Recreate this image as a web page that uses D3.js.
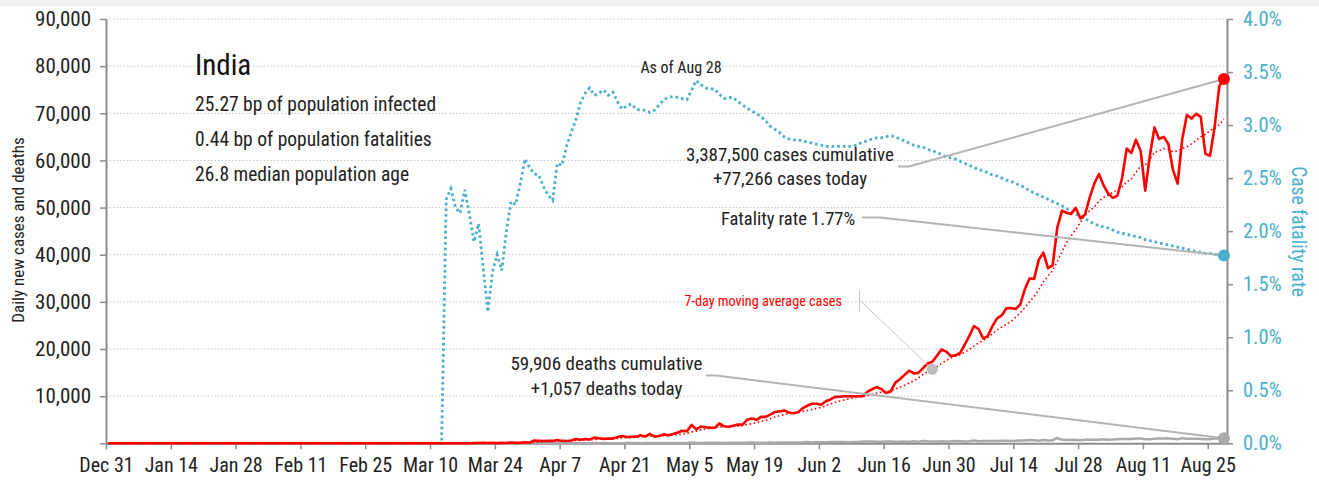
<!DOCTYPE html>
<html>
<head>
<meta charset="utf-8">
<script src="https://cdn.jsdelivr.net/npm/d3@7"></script>
<style>
  body { margin: 0; background: #fff; }
  svg text { font-family: "Liberation Sans Narrow", "Arial Narrow", "Roboto Condensed", "DejaVu Sans Condensed", sans-serif; }
</style>
</head>
<body>
<div id="plot"></div>
<script>
// ---- data ----
const country = "India";
const statLines = ["25.27 bp of population infected", "0.44 bp of population fatalities", "26.8 median population age"];
const asOfLabel = "As of Aug 28";

// daily new cases, one value per day from Mar 1 to Aug 28
const casesStart = "2020-03-01";
const casesEarly = [["2019-12-31", 0], ["2020-02-29", 0]];
const casesDaily = [
  0, 2, 1, 22, 2, 1, 3, 5, 9, 15, 8, 10, 8, 20, 25, 7, 23, 14, 38, 50, 86, 66, 103, 37, 121, 70, 160, 100, 106, 227, 146,
  601, 545, 478, 525, 505, 704, 508, 485, 591, 896, 768, 918, 796, 1211, 1076, 941, 1007, 991, 1334, 1553, 1336, 1383, 1409, 1684, 1429, 1990, 1396, 1543, 1897, 1718,
  1993, 2293, 2644, 2553, 3900, 2958, 3561, 3390, 3320, 3277, 4213, 3604, 3525, 3722, 3967, 3970, 4987, 5242, 4970, 5611, 5609, 6088, 6654, 6767, 6977, 6535, 6387, 6566, 7466, 7964, 8380,
  8392, 8171, 8909, 9304, 9851, 9887, 9971, 9983, 9987, 9985, 9996, 10956, 11458, 11929, 11502, 10667, 10974, 12881, 13586, 14516, 15413, 14821, 14933, 15968, 16922, 17296, 18552, 19906, 19459, 18522,
  18653, 19148, 20903, 22771, 24850, 24248, 22252, 22752, 24879, 26506, 27114, 28637, 28701, 28498, 29429, 32695, 34956, 34884, 38902, 40425, 37148, 37724, 45720, 49310, 48916, 48661, 49931, 47704, 48513, 52123, 55079,
  57118, 54735, 52972, 52050, 52509, 56282, 62538, 61537, 64399, 62064, 53601, 60963, 66999, 64553, 65002, 63490, 57982, 55079, 64531, 69652, 68898, 69878, 69239, 61408, 60975, 67151, 75760, 77266
];

// daily deaths, one value per day from Mar 12 to Aug 28
const deathsStart = "2020-03-12";
const deathsEarly = [["2019-12-31", 0], ["2020-03-11", 0]];
const deathsDaily = [
  1, 1, 0, 0, 0, 1, 0, 1, 1, 0, 3, 2, 1, 2, 3, 4, 2, 6, 4, 3,
  3, 12, 9, 15, 8, 28, 12, 35, 30, 33, 33, 35, 31, 51, 29, 38, 28, 37, 36, 31, 50, 47, 57, 37, 56, 49, 56, 62, 51, 73,
  75, 71, 83, 68, 195, 126, 89, 103, 95, 111, 128, 87, 122, 134, 100, 120, 120, 157, 134, 140, 132, 148, 137, 147, 154, 146, 170, 194, 175, 265, 193,
  230, 204, 217, 260, 273, 294, 287, 206, 266, 279, 357, 396, 386, 311, 325, 380, 400, 336, 336, 375, 306, 445, 312, 465, 418, 407, 384, 410, 380, 418,
  507, 434, 379, 442, 613, 425, 467, 482, 487, 475, 519, 551, 500, 553, 582, 606, 687, 671, 543, 681, 587, 648, 1129, 740, 705, 757, 708, 654, 768, 775, 779,
  764, 853, 771, 803, 857, 904, 886, 933, 1007, 1007, 871, 834, 942, 1007, 996, 1092, 941, 876, 1092, 977, 983, 945, 912, 836, 848, 1059, 1023, 1057
];

// case fatality rate (%), one value per day from Mar 13 to Aug 28
const cfrStart = "2020-03-13";
const cfrEarly = [["2019-12-31", 0], ["2020-03-12", 0]];
const cfrDaily = [
  2.30, 2.40, 2.22, 2.17, 2.39, 2.16, 1.90, 2.07, 1.65, 1.24, 1.62, 1.78, 1.63, 2.00, 2.28, 2.25, 2.45, 2.68, 2.60,
  2.54, 2.53, 2.42, 2.34, 2.29, 2.64, 2.62, 2.80, 2.93, 3.05, 3.21, 3.30, 3.35, 3.28, 3.30, 3.33, 3.28, 3.31, 3.22, 3.15, 3.18, 3.20, 3.15, 3.14, 3.14, 3.12, 3.14, 3.19, 3.24, 3.26,
  3.27, 3.26, 3.25, 3.24, 3.33, 3.42, 3.38, 3.35, 3.34, 3.34, 3.29, 3.25, 3.26, 3.26, 3.22, 3.19, 3.16, 3.13, 3.11, 3.08, 3.04, 2.99, 2.96, 2.93, 2.89, 2.87, 2.86, 2.86, 2.85, 2.84, 2.83,
  2.82, 2.81, 2.80, 2.80, 2.80, 2.80, 2.80, 2.80, 2.80, 2.82, 2.84, 2.85, 2.87, 2.88, 2.88, 2.89, 2.90, 2.89, 2.87, 2.85, 2.83, 2.81, 2.80, 2.79, 2.77, 2.76, 2.74, 2.72, 2.70, 2.69,
  2.68, 2.66, 2.64, 2.62, 2.60, 2.58, 2.57, 2.55, 2.53, 2.52, 2.50, 2.48, 2.47, 2.45, 2.43, 2.41, 2.38, 2.36, 2.34, 2.32, 2.30, 2.28, 2.26, 2.24, 2.21, 2.19, 2.16, 2.14, 2.12, 2.09, 2.07,
  2.05, 2.04, 2.03, 2.01, 1.99, 1.98, 1.97, 1.96, 1.95, 1.94, 1.92, 1.91, 1.90, 1.89, 1.88, 1.87, 1.86, 1.85, 1.84, 1.83, 1.82, 1.81, 1.80, 1.79, 1.79, 1.78, 1.78, 1.77
];

const casesNote = ["3,387,500 cases cumulative", "+77,266 cases today"];
const deathsNote = ["59,906 deaths cumulative", "+1,057 deaths today"];
const fatalityNote = "Fatality rate 1.77%";
const maLabel = "7-day moving average cases";
const maNoteDate = "2020-06-26";

const leftTicks = [0, 10000, 20000, 30000, 40000, 50000, 60000, 70000, 80000, 90000];
const rightTicks = [0, 0.005, 0.01, 0.015, 0.02, 0.025, 0.03, 0.035, 0.04];

// ---- setup ----
const W = 1319, H = 485;
const red = "#ff0000", blue = "#4aafca", grey = "#b4b4b4", axisGrey = "#8c8c8c";
const parse = d3.timeParse("%Y-%m-%d");
const noon = d => d3.timeHour.offset(d, 12);

function series(early, start, values) {
  const s = parse(start);
  return early.map(([d, v]) => ({date: parse(d), value: v}))
    .concat(values.map((v, i) => ({date: d3.timeDay.offset(s, i), value: v})));
}

const cases = series(casesEarly, casesStart, casesDaily);
const deaths = series(deathsEarly, deathsStart, deathsDaily);
const cfr = series(cfrEarly, cfrStart, cfrDaily.map(v => v / 100));

// trailing 7-day mean of reported daily cases
const caseByDay = new Map(cases.map(d => [+d.date, d.value]));
const movingAvg = casesDaily.map((v, i) => {
  const day = d3.timeDay.offset(parse(casesStart), i);
  const win = d3.range(7).map(k => caseByDay.get(+d3.timeDay.offset(day, -k)) || 0);
  return {date: day, value: d3.mean(win)};
});
const ma = casesEarly.map(([d, v]) => ({date: parse(d), value: v})).concat(movingAvg);

const x = d3.scaleTime()
  .domain([new Date(2019, 11, 31), new Date(2020, 7, 29, 4)])
  .range([106, 1227]);
const y = d3.scaleLinear().domain([0, 90000]).range([443.3, 19]);
const yR = d3.scaleLinear().domain([0, 0.04]).range([443.3, 19]);

const svg = d3.select("#plot")
  .append("svg")
  .attr("width", W)
  .attr("height", H);

// top grey band
svg.append("rect").attr("x", 0).attr("y", 0).attr("width", W).attr("height", 6).attr("fill", "#f1f1f1");

// gridlines
svg.append("g")
  .selectAll("line")
  .data(leftTicks.filter(t => t > 0))
  .join("line")
  .attr("x1", x.range()[0]).attr("x2", x.range()[1])
  .attr("y1", d => y(d)).attr("y2", d => y(d))
  .attr("stroke", "#c4c4c4")
  .attr("stroke-width", 1)
  .attr("stroke-dasharray", "1.5,2");

// axes
const xTicks = d3.range(18).map(i => d3.timeDay.offset(new Date(2019, 11, 31), 14 * i));
const gx = svg.append("g")
  .attr("transform", `translate(0,${y(0)})`)
  .call(d3.axisBottom(x).tickValues(xTicks).tickFormat(d3.timeFormat("%b %-d")).tickSize(6).tickSizeOuter(0));
const gl = svg.append("g")
  .attr("transform", `translate(${x.range()[0]},0)`)
  .call(d3.axisLeft(y).tickValues(leftTicks).tickFormat(d => d === 0 ? "" : d3.format(",")(d)).tickSize(6).tickSizeOuter(0));
const gr = svg.append("g")
  .attr("transform", `translate(${x.range()[1]},0)`)
  .call(d3.axisRight(yR).tickValues(rightTicks).tickFormat(d3.format(".1%")).tickSize(6).tickSizeOuter(0));

[gx, gl, gr].forEach(g => {
  g.select(".domain").attr("stroke", axisGrey).attr("stroke-width", 2);
  g.selectAll(".tick line").attr("stroke", axisGrey).attr("stroke-width", 1.5);
  g.selectAll("text").attr("fill", "#222");
});
gx.selectAll("text").style("font-size", "20px").attr("dy", "1.0em");
gl.selectAll("text").style("font-size", "21px").attr("x", -15);
gr.selectAll("text").style("font-size", "20.5px").attr("x", 16).attr("fill", blue);

// axis titles
svg.append("text")
  .attr("transform", "translate(24,230) rotate(-90)")
  .attr("text-anchor", "middle")
  .style("font-size", "17px")
  .attr("fill", "#222")
  .text("Daily new cases and deaths");
svg.append("text")
  .attr("transform", "translate(1292,231.5) rotate(90)")
  .attr("text-anchor", "middle")
  .style("font-size", "19.5px")
  .attr("fill", blue)
  .text("Case fatality rate");

// lines
const lineL = d3.line().x(d => x(noon(d.date))).y(d => y(d.value));
const lineR = d3.line().x(d => x(noon(d.date))).y(d => yR(d.value));

svg.append("path").datum(cfr)
  .attr("d", lineR).attr("fill", "none")
  .attr("stroke", blue).attr("stroke-width", 2.8).attr("stroke-dasharray", "2.6,3");
svg.append("path").datum(deaths)
  .attr("d", lineL).attr("fill", "none")
  .attr("stroke", "#a9a9a9").attr("stroke-width", 2.5);
svg.append("path").datum(ma)
  .attr("d", lineL).attr("fill", "none")
  .attr("stroke", red).attr("stroke-width", 1.6).attr("stroke-dasharray", "1.6,2.6");
svg.append("path").datum(cases)
  .attr("d", lineL).attr("fill", "none")
  .attr("stroke", red).attr("stroke-width", 2.6).attr("stroke-linejoin", "round");

// end markers and leader lines
const lastCase = cases[cases.length - 1], lastDeath = deaths[deaths.length - 1], lastCfr = cfr[cfr.length - 1];
const maPoint = ma.find(d => +d.date === +parse(maNoteDate));

const leader = (pts, w, c) => svg.append("path")
  .attr("d", d3.line()(pts)).attr("fill", "none")
  .attr("stroke", c || grey).attr("stroke-width", w || 2);

leader([[898, 166.5], [909, 166.5], [x(noon(lastCase.date)), y(lastCase.value)]]);
leader([[862, 217.5], [880, 217.5], [x(noon(lastCfr.date)), yR(lastCfr.value)]]);
leader([[706, 375.5], [716, 375.5], [x(noon(lastDeath.date)), y(lastDeath.value)]]);
leader([[859.5, 290], [859.5, 312]], 1, "#c8c8c8");
leader([[859.5, 300], [x(noon(maPoint.date)), y(maPoint.value)]], 1, "#c8c8c8");

svg.append("circle").attr("cx", x(noon(maPoint.date))).attr("cy", y(maPoint.value)).attr("r", 5.5).attr("fill", "#bdbdbd");
svg.append("circle").attr("cx", x(noon(lastDeath.date))).attr("cy", y(lastDeath.value)).attr("r", 6).attr("fill", "#a9a9a9");
svg.append("circle").attr("cx", x(noon(lastCfr.date))).attr("cy", yR(lastCfr.value)).attr("r", 6).attr("fill", blue);
svg.append("circle").attr("cx", x(noon(lastCase.date))).attr("cy", y(lastCase.value)).attr("r", 6).attr("fill", red);

// annotations
const note = (lines, cx, y0, dy, size) => lines.forEach((t, i) => svg.append("text")
  .attr("x", cx).attr("y", y0 + i * dy)
  .attr("text-anchor", "middle")
  .style("font-size", size + "px")
  .attr("fill", "#222")
  .text(t));

note(casesNote, 790, 161, 24, 19);
note([fatalityNote], 788, 225, 0, 18.5);
note(deathsNote, 606.5, 370, 25, 19);
note([asOfLabel], 681, 73, 0, 16);

svg.append("text")
  .attr("x", 842).attr("y", 306)
  .attr("text-anchor", "end")
  .style("font-size", "14.2px")
  .attr("fill", red)
  .text(maLabel);

// country block
svg.append("text")
  .attr("x", 195).attr("y", 75)
  .style("font-size", "29px")
  .attr("fill", "#111")
  .text(country);
statLines.forEach((t, i) => svg.append("text")
  .attr("x", 195).attr("y", 111 + i * 34.8)
  .style("font-size", "19.5px")
  .attr("fill", "#222")
  .text(t));
</script>
</body>
</html>
